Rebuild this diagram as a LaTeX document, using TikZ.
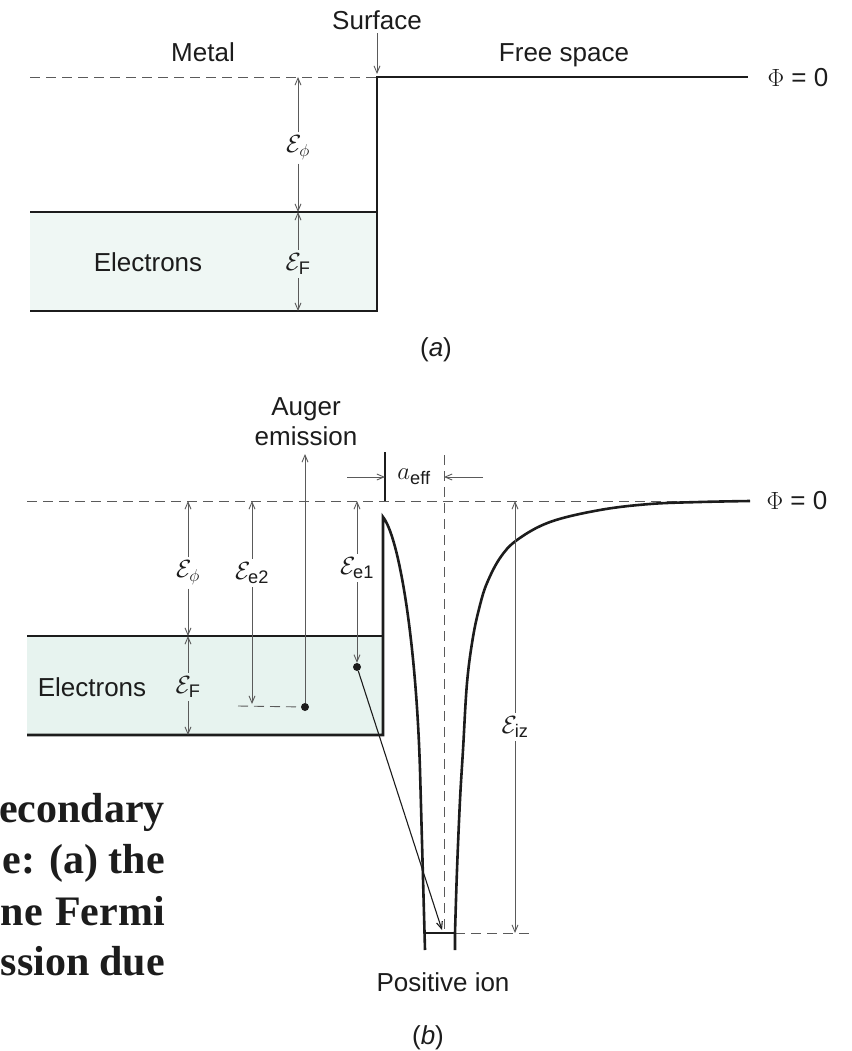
\documentclass[tikz,border=0pt]{standalone}
\usepackage{amsmath}
\usepackage{fontspec}
\setmainfont{Liberation Sans}
\newfontfamily\capfont{Liberation Serif}
\usetikzlibrary{arrows.meta}

\definecolor{ink}{RGB}{28,28,28}
\definecolor{lead}{RGB}{90,90,90}
\definecolor{sea}{RGB}{231,243,239}
\definecolor{palesea}{RGB}{239,247,244}

\newcommand{\lev}[1]{$\mathcal{E}_{\text{#1}}$}
\newcommand{\levphi}{$\mathcal{E}_{\phi}$}

\begin{document}
\begin{tikzpicture}[x=1pt, y=-1pt, font=\fontsize{26}{30}\selectfont, text=ink,
    thickline/.style={draw=ink, line width=2.6pt},
    level/.style={draw=ink, line width=1.3pt},
    vacuum/.style={draw=lead, line width=0.9pt, dash pattern=on 10pt off 6pt},
    dim/.style={draw=lead, line width=0.9pt, -{Straight Barb[length=7pt, width=6pt]}},
    dot/.style={circle, fill=ink, inner sep=0pt, minimum size=8pt},
    captxt/.style={font=\capfont\bfseries\fontsize{42}{50}\selectfont, anchor=base east, inner sep=0pt}]

    \useasboundingbox (0,0) rectangle (851,1051);

    % (a) metal and free space
    \fill[palesea] (30,212) rectangle (377,311);
    \coordinate (aL0) at (30,77);
    \coordinate (aS0) at (377,77);
    \coordinate (aS1) at (377,311);
    \coordinate (aR0) at (748,77);
    \coordinate (aF0) at (30,212);
    \coordinate (aF1) at (377,212);
    \coordinate (aB0) at (30,311);
    \coordinate (aPv) at (298,77);
    \coordinate (aPf) at (298,212);
    \coordinate (aPb) at (298,311);
    \coordinate (aSa) at (377,74);

    \draw[vacuum] (aL0) -- (aS0);
    \draw[level] (aF0) -- (aF1);
    \draw[thickline] (aB0) -- (aS1) -- (aS0) -- (aR0);

    \node (surf) at (377,20) {Surface};
    \node (metal) at (203,52) {Metal};
    \node (free) at (564,55) {Free space};
    \node (phiA) at (798,78) {$\Phi$ = 0};
    \node (elecA) at (148,262) {Electrons};
    \node (ephiA) at (298,148) {\levphi};
    \node (efA) at (298,264) {\lev{F}};
    \node (labA) at (436,350) {(\textit{a})};

    \draw[dim] (surf) -- (aSa);
    \draw[dim] (ephiA) -- (aPv);
    \draw[dim] (ephiA) -- (aPf);
    \draw[dim] (efA) -- (aPf);
    \draw[dim] (efA) -- (aPb);

    % (b) metal next to a positive ion
    \fill[sea] (27,636) rectangle (383,735);
    \coordinate (bL0) at (27,501);
    \coordinate (bV1) at (700,501);
    \coordinate (bF0) at (27,636);
    \coordinate (bF1) at (383,636);
    \coordinate (bB0) at (27,735);
    \coordinate (bB1) at (383,735);
    \coordinate (peak) at (383,517);
    \coordinate (wL) at (425,933);
    \coordinate (wR) at (455,933);
    \coordinate (bD1) at (533,933);
    \coordinate (bPv) at (188,501);
    \coordinate (bPf) at (188,636);
    \coordinate (bPb) at (188,735);
    \coordinate (e2v) at (252,501);
    \coordinate (e2b) at (252,704);
    \coordinate (e2d) at (238,706);
    \coordinate (e1v) at (357,501);
    \coordinate (izv) at (515,501);
    \coordinate (izb) at (515,933);
    \coordinate (tickT) at (385,452);
    \coordinate (tickB) at (385,501);
    \coordinate (aeffL) at (347,477);
    \coordinate (aeffR) at (483,477);
    \coordinate (aeffLt) at (385,477);
    \coordinate (aeffRt) at (444,477);
    \coordinate (midT) at (444,455);
    \coordinate (midB) at (444,933);
    \coordinate (augT) at (305,454);
    \coordinate (ionT) at (442,930);

    \draw[vacuum] (bL0) -- (bV1);
    \draw[vacuum] (midT) -- (midB);
    \draw[vacuum] (wR) -- (bD1);
    \draw[level] (bF0) -- (bF1);
    \draw[thickline] (bB0) -- (bB1) -- (peak)
        .. controls (399,537) and (416,640) .. (420,770) -- (425,950);
    \draw[thickline] (455,950) -- plot[smooth, tension=0.6] coordinates
        {(455,933) (457,870) (460,800) (463,750) (467,683) (473,637) (480,605) (487,583)
         (500,558) (517,540) (550,522) (600,510) (650,504) (700,502) (750,501)};
    \draw[level, line width=2pt] (wL) -- (wR);
    \draw[ink, line width=1.2pt] (tickT) -- (tickB);

    \node[align=center] (auger) at (306,422) {Auger\\emission};
    \node[dot] (d2) at (305,707) {};
    \node[dot] (d1) at (357,667) {};
    \node (ephiB) at (188,573) {\levphi};
    \node (efB) at (188,687) {\lev{F}};
    \node (ee2) at (252,573) {\lev{e2}};
    \node (ee1) at (357,568) {\lev{e1}};
    \node (eiz) at (515,727) {\lev{iz}};
    \node (aeff) at (414,477) {$a_{\text{eff}}$};
    \node (elecB) at (92,687) {Electrons};
    \node (phiB) at (797,501) {$\Phi$ = 0};
    \node (ion) at (443,982) {Positive ion};
    \node (labB) at (428,1038) {(\textit{b})};

    \draw[dim] (d2) -- (augT);
    \draw[dim] (ephiB) -- (bPv);
    \draw[dim] (ephiB) -- (bPf);
    \draw[dim] (efB) -- (bPf);
    \draw[dim] (efB) -- (bPb);
    \draw[dim] (ee2) -- (e2v);
    \draw[dim] (ee2) -- (e2b);
    \draw[vacuum] (e2d) -- (d2);
    \draw[dim] (ee1) -- (e1v);
    \draw[dim] (ee1) -- (d1);
    \draw[dim] (eiz) -- (izv);
    \draw[dim] (eiz) -- (izb);
    \draw[dim] (aeffL) -- (aeffLt);
    \draw[dim] (aeffR) -- (aeffRt);
    \draw[dim, draw=ink, line width=1.1pt] (d1) -- (ionT);

    % caption lines as printed at the left edge
    \node[captxt] (cap1) at (165,822) {econdary};
    \node[captxt] (cap2) at (165,873) {\makebox[162pt][s]{e: (a) the}};
    \node[captxt] (cap3) at (165,925) {\makebox[164pt][s]{ne Fermi}};
    \node[captxt] (cap4) at (165,975) {\makebox[164pt][s]{ssion due}};
\end{tikzpicture}
\end{document}
